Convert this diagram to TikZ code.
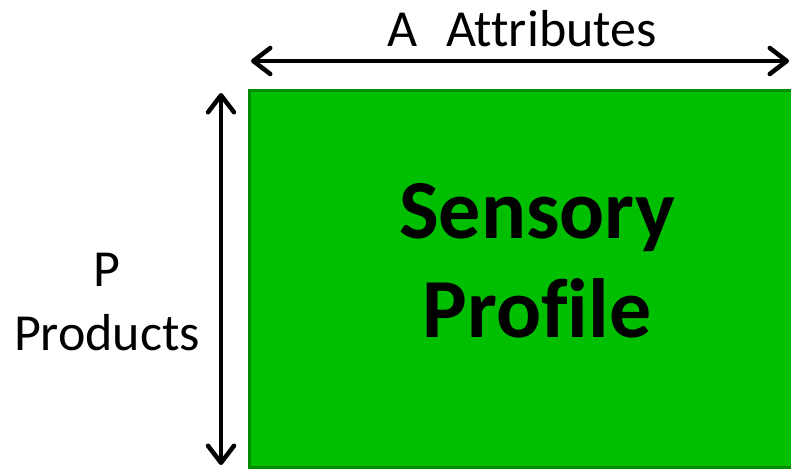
\documentclass[tikz,border=0pt]{standalone}
\usepackage{fontspec}
\setmainfont{Carlito}[Ligatures=NoCommon]
\usetikzlibrary{arrows.meta}
\definecolor{profgreen}{RGB}{0,191,0}
\definecolor{profedge}{RGB}{0,140,0}

\begin{document}
\begin{tikzpicture}[x=1pt,y=-1pt,
	profbox/.style={rectangle,draw=profedge,fill=profgreen,line width=3pt,minimum width=552pt,minimum height=377pt,inner sep=0pt},
	axisarrow/.style={line width=4.5pt,{Straight Barb[length=17pt,width=26pt,round]}-{Straight Barb[length=17pt,width=26pt,round]}},
	axislabel/.style={font=\fontsize{52}{64}\selectfont,inner sep=0pt,align=center},
	title/.style={font=\fontsize{84}{99}\selectfont\bfseries,inner sep=0pt,align=center}]
		\useasboundingbox (0,0) rectangle (791,469);
		\clip (0,0) rectangle (791,469);
		\node[profbox] (profile) at (525,278.5) {};
		\node[title,anchor=base] (sensory) at (537,337) {Sensory\\Profile};
		\node[axislabel,anchor=base] (attributes) at (522,46) {A\hspace{0.55em}Attributes};
		\node[axislabel,anchor=base] (products) at (107,350) {P\\Products};
		\coordinate (attrleft) at (251,61);
		\coordinate (attrright) at (789,61);
		\coordinate (prodtop) at (221,93);
		\coordinate (prodbottom) at (221,465);
		\draw[axisarrow] (attrleft) -- (attrright);
		\draw[axisarrow] (prodtop) -- (prodbottom);
	\end{tikzpicture}
\end{document}
